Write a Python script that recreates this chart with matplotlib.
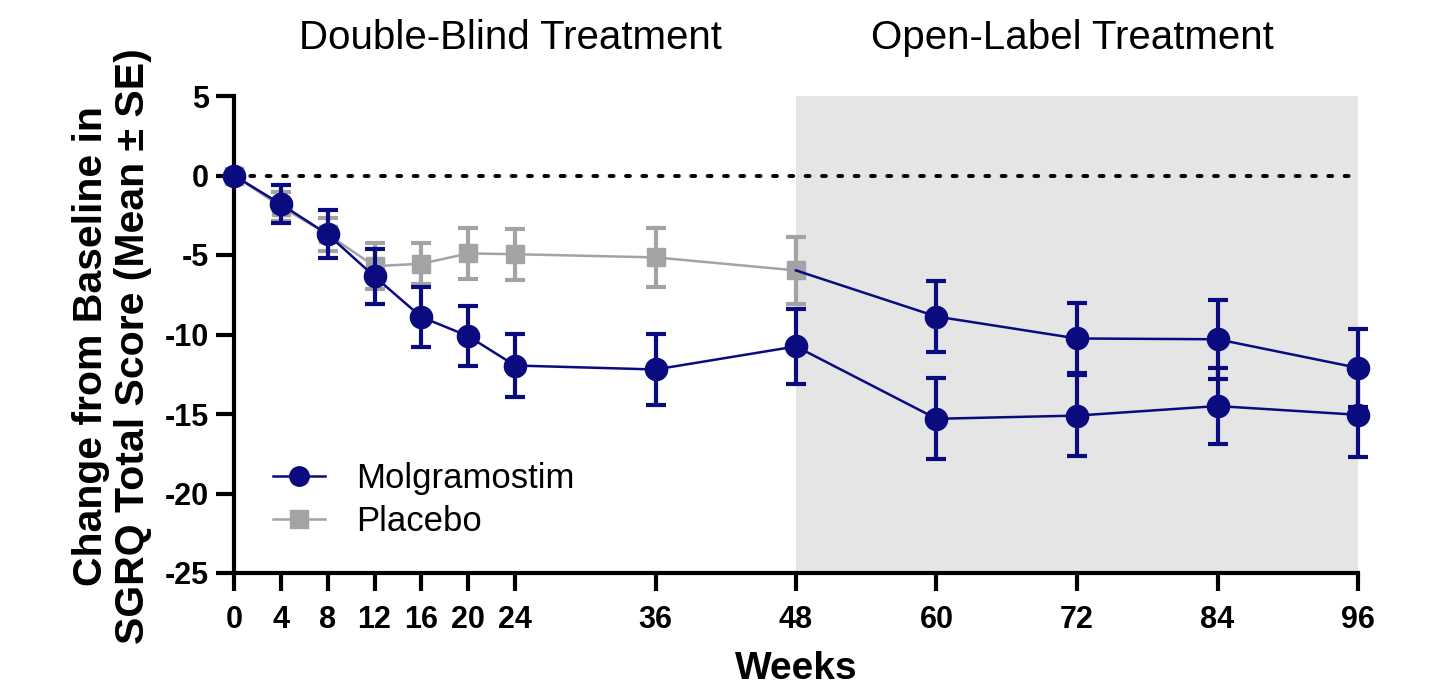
import matplotlib
matplotlib.use("Agg")
import matplotlib.pyplot as plt
from matplotlib import font_manager
from matplotlib.lines import Line2D

# ---------------- data ----------------
molg_weeks = [0, 4, 8, 12, 16, 20, 24, 36, 48, 60, 72, 84, 96]
molg_mean = [0, -1.8, -3.7, -6.35, -8.9, -10.1, -11.95, -12.2, -10.75, -15.3, -15.1, -14.5, -15.05]
molg_se = [0, 1.2, 1.5, 1.75, 1.9, 1.9, 2.0, 2.25, 2.35, 2.55, 2.55, 2.4, 2.65]

plac_weeks = [0, 4, 8, 12, 16, 20, 24, 36, 48]
plac_mean = [0, -1.95, -3.7, -5.7, -5.55, -4.9, -4.95, -5.15, -5.97]
plac_se = [0, 0.9, 1.05, 1.45, 1.3, 1.6, 1.6, 1.85, 2.1]

# Placebo patients switched to molgramostim in the open-label period
switch_weeks = [48, 60, 72, 84, 96]
switch_mean = [-5.97, -8.87, -10.25, -10.3, -12.1]
switch_se = [0, 2.25, 2.2, 2.5, 2.45]

xticks = [0, 4, 8, 12, 16, 20, 24, 36, 48, 60, 72, 84, 96]
yticks = [5, 0, -5, -10, -15, -20, -25]
period_labels = ["Double-Blind Treatment", "Open-Label Treatment"]
series_labels = ["Molgramostim", "Placebo"]

NAVY = "#0b0b80"
GRAY = "#a3a3a6"
SHADE = "#e5e5e5"

names = {f.name for f in font_manager.fontManager.ttflist}
base = "Liberation Sans" if "Liberation Sans" in names else "DejaVu Sans"
plt.rcParams["font.family"] = [base, "DejaVu Sans"]

W, H = 1437, 689
fig = plt.figure(figsize=(W / 100, H / 100), dpi=100)
ax = fig.add_axes([234 / W, 1 - 573 / H, (1358 - 234) / W, (573 - 96) / H])

ax.set_xlim(0, 96)
ax.set_ylim(-25, 5)
ax.axvspan(48, 96, color=SHADE, zorder=0, lw=0)
ax.axhline(0, color="black", ls=(0, (1, 3.2)), lw=2.8, zorder=1, dash_capstyle="round")

EB = dict(elinewidth=3, capsize=7, capthick=3, clip_on=False)
# placebo (double blind)
ax.errorbar(plac_weeks, plac_mean, yerr=plac_se, color=GRAY, marker="s", ms=13,
            lw=1.8, zorder=3, **EB)
# placebo -> molgramostim (open label)
ax.plot(switch_weeks, switch_mean, color=NAVY, lw=1.8, zorder=4, clip_on=False)
ax.errorbar(switch_weeks[1:], switch_mean[1:], yerr=switch_se[1:], color=NAVY, fmt="o", ms=16,
            zorder=4, **EB)
# molgramostim
ax.errorbar(molg_weeks, molg_mean, yerr=molg_se, color=NAVY, marker="o", ms=16,
            lw=1.8, zorder=5, **EB)

for s in ["top", "right"]:
    ax.spines[s].set_visible(False)
for s in ["left", "bottom"]:
    ax.spines[s].set_linewidth(3)

ax.set_xticks(xticks)
ax.set_xticklabels([str(x) for x in xticks], fontweight="bold", fontsize=22)
ax.set_yticks(yticks)
ax.set_yticklabels([str(y) for y in yticks], fontweight="bold", fontsize=22)
ax.tick_params(axis="both", length=13, width=3, color="black")
ax.tick_params(axis="x", pad=10)
ax.tick_params(axis="y", pad=5)

fig.text(796 / W, 1 - 669 / H, "Weeks", ha="center", va="center", fontweight="bold", fontsize=28)
fig.text(112 / W, 1 - 346 / H, "Change from Baseline in\nSGRQ Total Score (Mean ± SE)",
         rotation=90, ha="center", va="center", fontweight="bold", fontsize=29.5,
         linespacing=1.1, multialignment="center")

fig.text(510 / W, 1 - 38 / H, period_labels[0], ha="center", va="center", fontsize=29)
fig.text(1072 / W, 1 - 38 / H, period_labels[1], ha="center", va="center", fontsize=29)

handles = [
    Line2D([], [], color=NAVY, marker="o", ms=14, lw=1.8),
    Line2D([], [], color=GRAY, marker="s", ms=13, lw=1.8),
]
fig.legend(handles, series_labels, loc="center left", bbox_to_anchor=(273 / W, 1 - 500 / H),
           frameon=False, fontsize=25, handlelength=1.5, labelspacing=0.3,
           handletextpad=0.9, borderpad=0, borderaxespad=0)

fig.savefig("out.png", dpi=100)
